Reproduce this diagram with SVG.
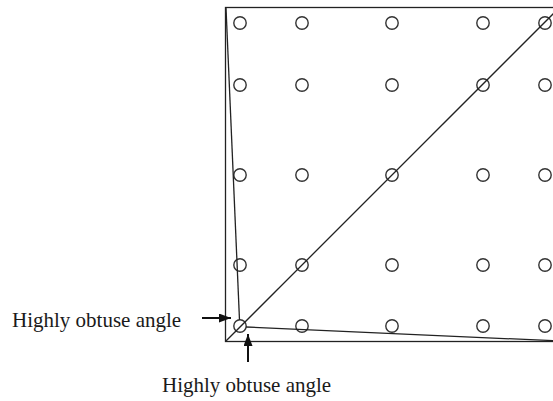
<svg xmlns="http://www.w3.org/2000/svg" width="553" height="401" viewBox="0 0 553 401">
<defs>
<style>
.edge{fill:none;stroke:#222;stroke-width:1.3}
.peg{fill:none;stroke:#333;stroke-width:1.4}
.lbl{font-family:"Liberation Serif","Times New Roman",serif;font-size:21px;fill:#1a1a1a}
.arr{stroke:#111;stroke-width:2}
</style>
<marker id="ah" viewBox="0 0 12 9" refX="12" refY="4.5" markerWidth="12" markerHeight="9" orient="auto" markerUnits="userSpaceOnUse">
<path d="M0,0 L12,4.5 L0,9 z" fill="#111"/>
</marker>
</defs>
<rect width="553" height="401" fill="#fff"/>
<g id="board">
<rect class="edge" x="225.5" y="7.5" width="334" height="334" stroke-width="1.6"/>
</g>
<g id="pegs">
<circle class="peg" cx="240" cy="23" r="6.2"/><circle class="peg" cx="302" cy="23" r="6.2"/><circle class="peg" cx="392" cy="23" r="6.2"/><circle class="peg" cx="483" cy="23" r="6.2"/><circle class="peg" cx="545" cy="23" r="6.2"/>
<circle class="peg" cx="240" cy="85" r="6.2"/><circle class="peg" cx="302" cy="85" r="6.2"/><circle class="peg" cx="392" cy="85" r="6.2"/><circle class="peg" cx="483" cy="85" r="6.2"/><circle class="peg" cx="545" cy="85" r="6.2"/>
<circle class="peg" cx="240" cy="175" r="6.2"/><circle class="peg" cx="302" cy="175" r="6.2"/><circle class="peg" cx="392" cy="175" r="6.2"/><circle class="peg" cx="483" cy="175" r="6.2"/><circle class="peg" cx="545" cy="175" r="6.2"/>
<circle class="peg" cx="240" cy="265" r="6.2"/><circle class="peg" cx="302" cy="265" r="6.2"/><circle class="peg" cx="392" cy="265" r="6.2"/><circle class="peg" cx="483" cy="265" r="6.2"/><circle class="peg" cx="545" cy="265" r="6.2"/>
<circle class="peg" cx="240" cy="326" r="6.2"/><circle class="peg" cx="302" cy="326" r="6.2"/><circle class="peg" cx="392" cy="326" r="6.2"/><circle class="peg" cx="483" cy="326" r="6.2"/><circle class="peg" cx="545" cy="326" r="6.2"/>
</g>
<g id="connectors">
<line class="edge" x1="225.5" y1="341.5" x2="559.5" y2="7.5"/>
<line class="edge" x1="226" y1="8" x2="239.5" y2="320"/>
<line class="edge" x1="246" y1="327" x2="559.5" y2="341"/>
<line class="arr" x1="202" y1="318" x2="231" y2="318" marker-end="url(#ah)"/>
<line class="arr" x1="248" y1="362" x2="248" y2="334" marker-end="url(#ah)"/>
</g>
<g id="labels">
<text class="lbl" x="12" y="327">Highly obtuse angle</text>
<text class="lbl" x="162" y="392">Highly obtuse angle</text>
</g>
</svg>
